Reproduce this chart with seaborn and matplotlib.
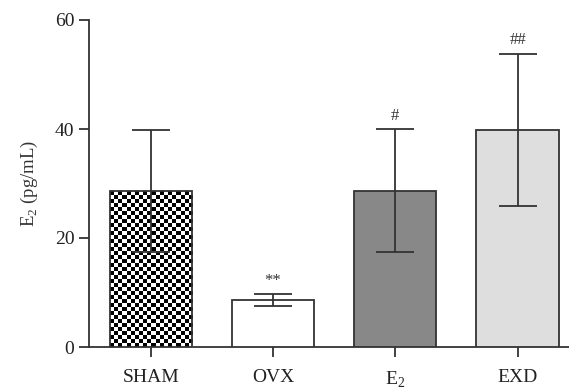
import numpy as np
import pandas as pd
import matplotlib
matplotlib.use("Agg")
import matplotlib.pyplot as plt
import seaborn as sns

groups = ["SHAM", "OVX", "E$_\\mathregular{2}$", "EXD"]
means = [28.6, 8.6, 28.7, 39.8]
errors = [11.2, 1.1, 11.3, 14.0]
marks = ["", "**", "#", "##"]
yticks = [0, 20, 40, 60]

sns.set_style("ticks")
plt.rcParams["font.family"] = ["Liberation Serif", "DejaVu Serif"]
plt.rcParams["mathtext.fontset"] = "custom"
plt.rcParams["mathtext.rm"] = "Liberation Serif"

edge = "#333333"
fig = plt.figure(figsize=(5.69, 3.90), dpi=100)
ax = fig.add_axes([89 / 569, 1 - 347 / 390, 1 - 89 / 569, (347 - 20) / 390])

df = pd.DataFrame({"group": groups, "value": means})
colors = ["white", "white", "#888888", "#dedede"]
sns.barplot(data=df, x="group", y="value", hue="group", palette=colors,
            legend=False, errorbar=None, width=0.673, ax=ax,
            edgecolor=edge, linewidth=1.3, zorder=3)

# checkerboard fill for first bar
p = ax.patches[0]
x0, y0 = p.get_x(), p.get_y()
w, h = p.get_width(), p.get_height()
ncol, nrow = 20, 39
board = (np.add.outer(np.arange(nrow), np.arange(ncol)) % 2).astype(float)
im = ax.imshow(board, extent=(x0, x0 + w, y0, y0 + h), cmap="gray",
               vmin=0.1, vmax=1, interpolation="nearest", aspect="auto", zorder=3.5)
im.set_clip_path(p)
p.set_facecolor("none")
p.set_zorder(4)

xs = np.arange(len(groups))
ax.errorbar(xs, means, yerr=errors, fmt="none", ecolor=edge, elinewidth=1.3,
            capsize=13.7, capthick=1.3, zorder=5)
for x, m, e, t in zip(xs, means, errors, marks):
    if t:
        ax.text(x, m + e + 1.0, t, ha="center", va="bottom", fontsize=12, color="#333333")

ax.set_xlim(-0.505, 3.42)
ax.set_ylim(0, 60)
ax.set_yticks(yticks)
ax.set_xlabel("")
ax.set_ylabel("E$_\\mathregular{2}$ (pg/mL)", fontsize=13.5, color="#333333", labelpad=11)
ax.tick_params(axis="both", labelsize=14, colors=edge, labelcolor="#222222",
               length=7, width=1.3)
ax.tick_params(axis="x", pad=9)
for s in ["left", "bottom"]:
    ax.spines[s].set_color(edge)
    ax.spines[s].set_linewidth(1.3)
sns.despine(ax=ax)

fig.savefig("out.png", dpi=100)
